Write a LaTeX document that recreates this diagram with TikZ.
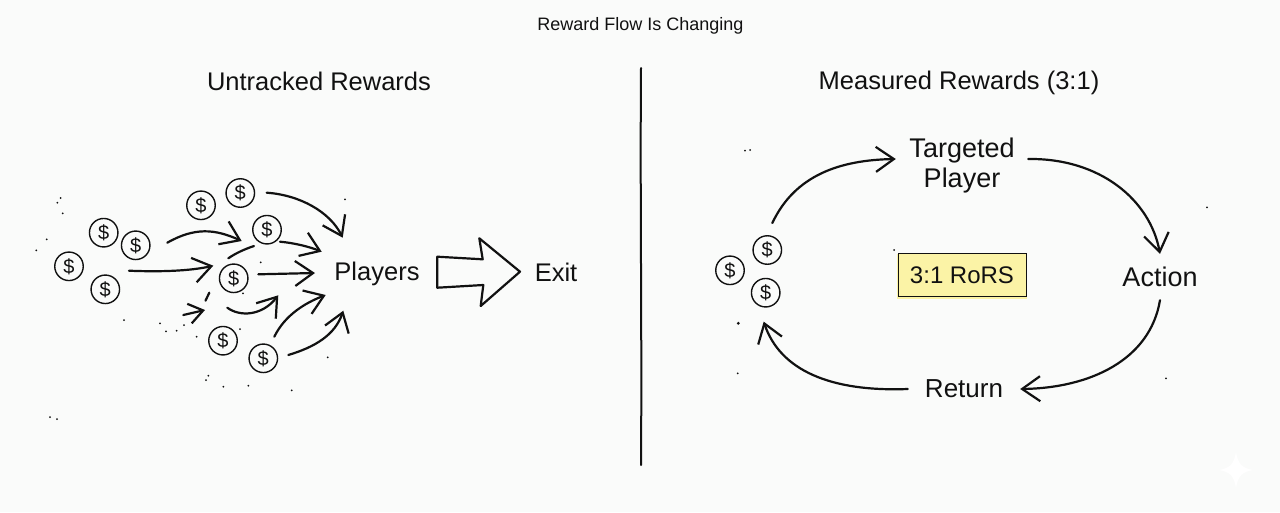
\documentclass[tikz,border=0pt]{standalone}
\usepackage{fontspec}
\setmainfont{Liberation Sans}
\usetikzlibrary{arrows.meta}
\definecolor{ink}{HTML}{111111}
\definecolor{paper}{HTML}{FAFBFA}
\definecolor{note}{HTML}{FBF3A6}
\tikzset{
  x=1pt,y=-1pt,
  coin/.style={circle,draw=ink,line width=1.4pt,minimum size=28.5pt,inner sep=0pt,text=ink,font=\fontsize{20}{20}\selectfont},
  flow/.style={draw=ink,line width=2.2pt,line cap=round,-{Straight Barb[length=18pt,width=25pt,line width=2.2pt]}},
  plain/.style={draw=ink,line width=2.2pt,line cap=round},
  label/.style={text=ink,inner sep=0pt,align=center,font=\fontsize{25.5}{30}\selectfont},
  heading/.style={text=ink,inner sep=0pt,font=\fontsize{25.5}{28}\selectfont},
  speck/.style={fill=ink,circle,inner sep=0pt,minimum size=2pt},
  bigspeck/.style={fill=ink,circle,inner sep=0pt,minimum size=3.2pt}
}
\begin{document}
\begin{tikzpicture}
\fill[paper] (0,0) rectangle (1280,512);
\useasboundingbox (0,0) rectangle (1280,512);
\fill[white] (1236,452) .. controls (1238,464) and (1242,468) .. (1253,470) .. controls (1242,472) and (1238,476) .. (1236,488) .. controls (1234,476) and (1230,472) .. (1219,470) .. controls (1230,468) and (1234,464) .. (1236,452) -- cycle;
\node[text=ink,inner sep=0pt,font=\fontsize{18}{22}\selectfont] (title) at (640.5,26) {Reward Flow Is Changing};
\node[heading] (headL) at (319,81) {Untracked Rewards};
\node[heading] (headR) at (959,83) {Measured Rewards (3:1)};
\coordinate (divTop) at (641,68);
\coordinate (divBot) at (641,465);
\draw[draw=ink,line width=2pt,line cap=round] (divTop) .. controls (640,200) and (642,330) .. (divBot);
% left coins
\node[coin] (l1) at (103.7,232.7) {\$};
\node[coin] (l2) at (135.7,245.3) {\$};
\node[coin] (l3) at (69,266.3) {\$};
\node[coin] (l4) at (105.3,289.3) {\$};
\node[coin] (l5) at (201,205.3) {\$};
\node[coin] (l6) at (240.3,193) {\$};
\node[coin] (l7) at (267,229.7) {\$};
\node[coin] (l8) at (233.7,278.3) {\$};
\node[coin] (l9) at (223,340.7) {\$};
\node[coin] (l10) at (263.3,358.3) {\$};
\node[label] (players) at (377,274) {Players};
\node[label] (exit) at (556,272) {Exit};
% fan
\coordinate (a1s) at (167.3,242.7); \coordinate (a1e) at (241.7,241);
\coordinate (a2s) at (129,270.7);   \coordinate (a2e) at (213.3,265.7);
\coordinate (a3s) at (228.3,258.3); \coordinate (a3e) at (254,246);
\coordinate (a4s) at (280,241.7);   \coordinate (a4e) at (321.7,251.7);
\coordinate (a5s) at (266.7,192.7); \coordinate (a5e) at (342.7,237.7);
\coordinate (a6s) at (258.3,274.3); \coordinate (a6e) at (315,273);
\coordinate (a7s) at (227.3,307.7); \coordinate (a7e) at (278.3,295.3);
\coordinate (a8s) at (274.3,336.7); \coordinate (a8e) at (325.7,295);
\coordinate (a9s) at (288.3,355);   \coordinate (a9e) at (343.3,310.7);
\coordinate (a10s) at (183.3,315);  \coordinate (a10e) at (205,310);
\coordinate (d1s) at (209.3,292.7); \coordinate (d1e) at (205.5,300.7);
\draw[flow] (a1s) .. controls (195,227) and (215,229) .. (a1e);
\draw[flow] (a2s) .. controls (160,272) and (190,271) .. (a2e);
\draw[plain] (a3s) .. controls (236,253) and (245,249) .. (a3e);
\draw[flow] (a4s) .. controls (295,243) and (310,247) .. (a4e);
\draw[flow] (a5s) .. controls (300,195) and (330,212) .. (a5e);
\draw[flow] (a6s) -- (a6e);
\draw[flow] (a7s) .. controls (240,317) and (262,316) .. (a7e);
\draw[flow] (a8s) .. controls (285,315) and (305,303) .. (a8e);
\draw[flow] (a9s) .. controls (315,347) and (335,335) .. (a9e);
\draw[draw=ink,line width=2.2pt,line cap=round,-{Straight Barb[length=14pt,width=20pt,line width=2.2pt]}] (a10s) -- (a10e);
\draw[plain] (d1s) -- (d1e);
% block arrow
\draw[draw=ink,line width=2.2pt,line join=round,fill=paper]
  (437.3,256.7) -- (482.7,259.3) -- (479.3,238.3) -- (520,271.7) -- (480.7,306) -- (483.3,285) -- (437.3,287.7) -- cycle;
% right
\node[coin] (r1) at (767.3,250) {\$};
\node[coin] (r2) at (730,270.3) {\$};
\node[coin] (r3) at (765.7,292.7) {\$};
\node[label,font=\fontsize{27}{30}\selectfont,minimum width=132pt,minimum height=60pt] (target) at (962,166) {Targeted\\Player};
\node[label,font=\fontsize{27}{30}\selectfont,minimum width=76pt,minimum height=46pt] (action) at (1160,277) {Action};
\node[label,font=\fontsize{26}{30}\selectfont,minimum width=112pt,minimum height=30pt] (ret) at (964,389) {Return};
\fill[note] (896.5,254) rectangle (1027,298.5);
\node[fill=note,draw=ink,line width=1pt,text=ink,inner sep=0pt,minimum width=128pt,minimum height=43pt,font=\fontsize{24}{30}\selectfont] (ror) at (962,275) {3:1 RoRS};
\draw[flow] ([shift={(5pt,12pt)}]r1.north) .. controls (795,175) and (840,160) .. ([yshift=7pt]target.west);
\draw[flow] ([yshift=7pt]target.east) .. controls (1100,158) and (1150,200) .. (action.north);
\draw[flow] (action.south) .. controls (1150,360) and (1090,388) .. (ret.east);
\draw[flow] (ret.west) .. controls (830,392) and (780,370) .. ([shift={(-2pt,-14pt)}]r3.south);
% specks
\foreach \n/\p in {s1/{60.7,198},s2/{57.3,202.7},s3/{62.7,213.3},s4/{46.7,239.3},s5/{36.3,250.3},s6/{124,320},s7/{160,323.3},s8/{166,331.3},s9/{176.7,330.7},s10/{184,325},s11/{196.7,336.7},s12/{240,329},s13/{243,293.3},s14/{260.7,262.3},s15/{345,199.3},s16/{327.7,357.3},s17/{208.3,375.7},s18/{206,380},s19/{223.3,386.7},s20/{248.3,385.7},s21/{291.7,390.3},s22/{50,417},s23/{57,419},s24/{745,150.7},s25/{750,150},s27/{737.7,373.3},s28/{894,250},s29/{1207,207.3},s30/{1166,378.3}}{
  \node[speck] (\n) at (\p) {};
}
\node[bigspeck] (s26) at (738.3,323.3) {};
\end{tikzpicture}
\end{document}
